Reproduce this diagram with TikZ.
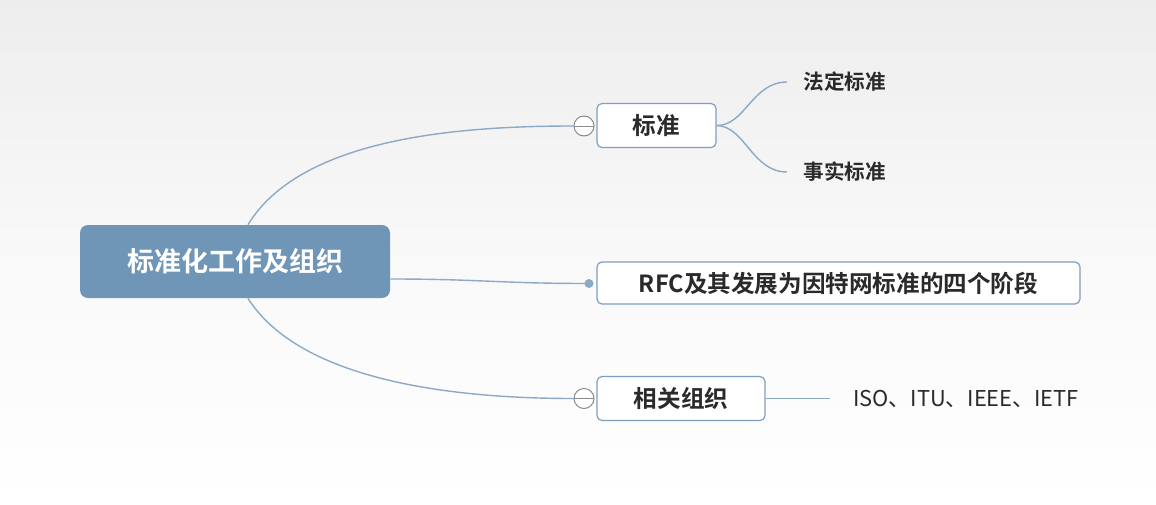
\documentclass[tikz,border=0pt]{standalone}
\usepackage{fontspec}
\setmainfont{Noto Sans CJK SC}[BoldFont={Noto Sans CJK SC Bold}]
\usetikzlibrary{positioning}

\definecolor{rootblue}{HTML}{6F96B7}
\definecolor{edgeblue}{HTML}{8CA9C5}
\definecolor{boxline}{HTML}{7F9FC0}
\definecolor{txtdark}{HTML}{2A2A2A}
\definecolor{knobgray}{HTML}{8A8A8A}

\tikzset{
  rootbox/.style={fill=rootblue, rounded corners=4pt, text=white, inner sep=0pt,
    minimum width=155pt, minimum height=36.5pt, font=\bfseries\fontsize{13.5}{14}\selectfont},
  topic/.style={draw=boxline, line width=.6pt, rounded corners=2.5pt, fill=white, text=txtdark,
    inner sep=0pt, minimum height=22pt, font=\bfseries\fontsize{11.8}{12}\selectfont},
  leaf/.style={text=txtdark, inner ysep=2pt, inner xsep=8pt, font=\fontsize{10.3}{11}\selectfont},
  knob/.style={circle, draw=knobgray, line width=.5pt, fill=white, minimum size=10pt, inner sep=0pt,
    path picture={\draw[knobgray, line width=.5pt] (path picture bounding box.west) -- (path picture bounding box.east);}},
  tip/.style={circle, fill=edgeblue, minimum size=4.5pt, inner sep=0pt},
  link/.style={draw=edgeblue, line width=.7pt}
}

\begin{document}
\begin{tikzpicture}[x=0.5pt, y=-0.5pt]
  \useasboundingbox (0, 0) rectangle (1156, 504);
  \shade[top color=black!7, bottom color=white, middle color=black!2.5] (0, 0) rectangle (1156, 504);

  %%root
  \node[rootbox] (root) at (235, 261.5) {标准化工作及组织};

  %%t1
  \node[topic, minimum width=59.5pt] (std) at (656.5, 125.5) {标准};
  \node[knob] (k1) at (584, 126) {};
  \node[leaf, anchor=west] (dejure) at (787, 82) {\bfseries 法定标准};
  \node[leaf, anchor=west] (defacto) at (787, 172) {\bfseries 事实标准};

    \draw[link] ([xshift=6.5pt]root.north) .. controls (300, 140) and (450, 126) .. (k1.west);
    \draw[link] (std.east) .. controls (745, 126) and (752, 82) .. (dejure.west);
    \draw[link] (std.east) .. controls (745, 126) and (752, 172) .. (defacto.west);

  %%t2
  \node[topic, minimum width=241.5pt, minimum height=21pt] (rfc) at (838.5, 283) {RFC及其发展为因特网标准的四个阶段};
  \node[tip] (d2) at (589, 283.5) {};

    \draw[link] ([yshift=-8.75pt]root.east) .. controls (480, 279) and (500, 283.5) .. (d2.center);

  %%t3
  \node[topic, minimum width=84pt] (org) at (681, 398.5) {相关组织};
  \node[knob] (k3) at (584, 398.5) {};
  \node[leaf, anchor=west, inner xsep=11.5pt, font=\fontsize{10.9}{11}\selectfont] (iso) at (830, 398.5) {ISO、ITU、IEEE、IETF};

    \draw[link] ([xshift=6.5pt]root.south) .. controls (300, 380) and (450, 398.5) .. (k3.west);
    \draw[link] (org.east) -- (iso.west);

\end{tikzpicture}
\end{document}
